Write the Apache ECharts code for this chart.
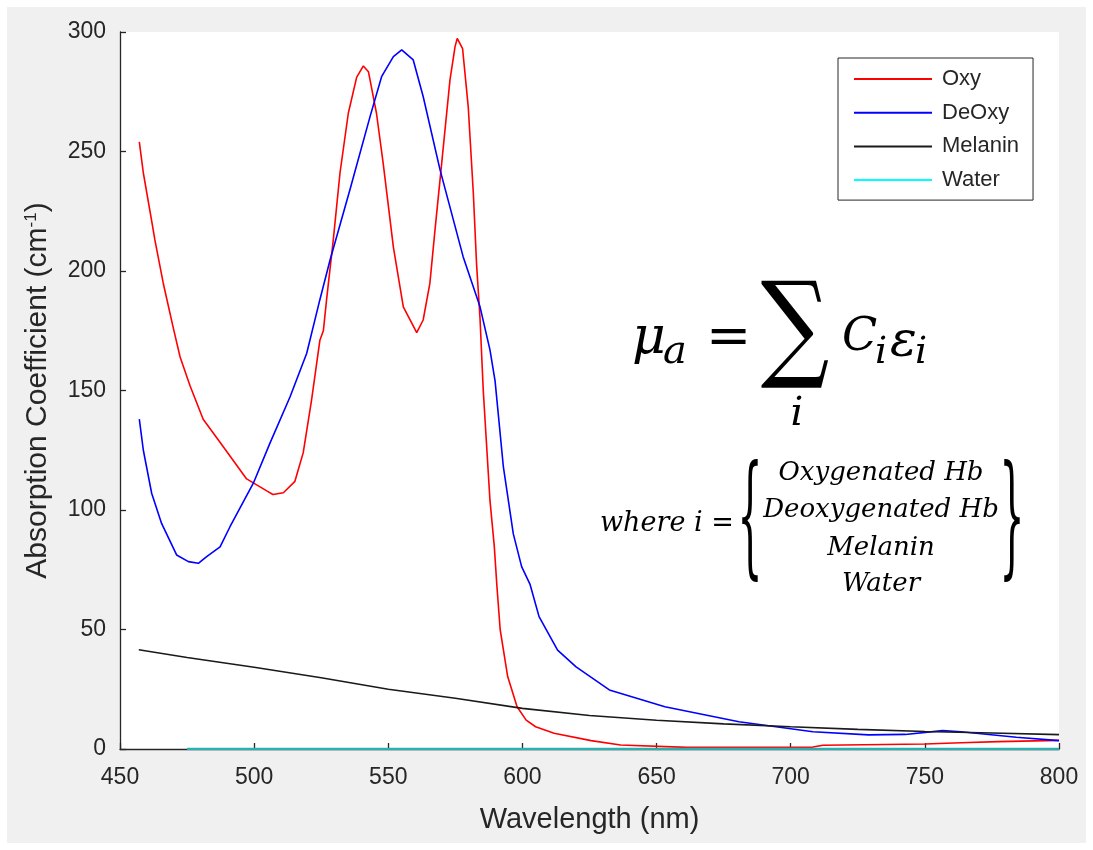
<!DOCTYPE html>
<html>
<head>
<meta charset="utf-8">
<script src="https://cdn.jsdelivr.net/npm/echarts@6/dist/echarts.min.js"></script>
<style>
  html, body { margin: 0; padding: 0; background: #fff; }
  #frame { position: absolute; left: 7px; top: 7px; width: 1079px; height: 836px; background: #f0f0f0; }
  #chart { position: absolute; left: 0; top: 0; width: 1093px; height: 850px; }
</style>
</head>
<body>
<div id="frame"></div>
<div id="chart"></div>
<script>
// absorption spectra (wavelength in nm, value in cm^-1)
const oxyWavelength = [457.2, 458.7, 461.8, 463, 466.1, 469.9, 472.4, 476.1, 481, 488.5, 497.2, 504.7, 507, 510.9, 515.2, 518.3, 521.4, 524.5, 525.8, 527, 529.5, 532, 535.1, 538.2, 540.7, 542.6, 545.6, 548.1, 551.9, 555.6, 560.6, 563, 565.5, 567.4, 569.9, 573, 574.9, 575.7, 577.7, 579.8, 581.7, 582.9, 584.2, 585.4, 587.9, 589.5, 590.5, 591.7, 594.5, 598, 601.4, 604.9, 611.8, 625.6, 636.6, 661.4, 708.3, 712, 750, 763.5, 777.3, 800]
const oxyValue = [254, 241, 221, 213, 195, 176, 164, 152, 138, 126.5, 113, 108, 106.5, 107.2, 112, 124, 146, 171, 175, 188, 213, 241, 266, 281, 285.8, 283.4, 266, 245, 210, 185, 174.2, 179.5, 194.8, 217, 245, 280, 294, 297.3, 293, 268.7, 232.5, 203, 180, 150, 104, 85, 68, 50, 30.3, 17.7, 12.1, 9.3, 6.6, 3.5, 1.7, 0.7, 0.8, 1.6, 2.1, 2.6, 3.1, 3.6]

const deoxyWavelength = [457.2, 458.7, 461.8, 465.5, 471.1, 475.5, 479.2, 482.3, 487.3, 491, 499.7, 505.9, 513.4, 519.6, 524.5, 528.3, 535.7, 543.2, 547.5, 551.9, 555, 559.3, 563, 569.3, 577.9, 584.2, 587.9, 589.8, 592.9, 596.6, 599.7, 602.8, 606.2, 613.1, 620, 632.4, 653.1, 680.7, 708.3, 729, 742.7, 756.6, 763.5, 784.1, 800]
const deoxyValue = [138, 125, 107, 94.4, 81.2, 78.4, 77.7, 80.5, 84.6, 93, 111.2, 128, 147.4, 165.6, 188, 204.6, 234, 264.6, 281.3, 289.7, 292.5, 288.3, 273, 242.3, 206, 185, 167, 154, 118, 90, 76.3, 69, 55.4, 41.4, 34.4, 24.7, 17.7, 11.4, 7.2, 5.9, 6.1, 7.7, 7.2, 4.9, 3.5]

const melaninWavelength = [457, 475, 500, 525, 550, 575, 600, 625, 650, 675, 700, 725, 750, 775, 800]
const melaninValue = [41.5, 38.3, 34.2, 29.8, 25, 21.2, 17, 14, 12, 10.5, 9.3, 8.2, 7.3, 6.7, 6]

const waterWavelength = [475, 550, 650, 750, 800]
const waterValue = [0, 0, 0, 0, 0]

const seriesNames = ['Oxy', 'DeOxy', 'Melanin', 'Water']

const sansFont = '"Liberation Sans", Arial, Helvetica, sans-serif'
const mathFont = '"DejaVu Serif", "Liberation Serif", serif'
const ink = '#262626'

function pairs(xs, ys) {
  return xs.map((x, i) => [x, ys[i]])
}

function lineSeries(name, xs, ys, color, width) {
  return {
    name,
    type: 'line',
    data: pairs(xs, ys),
    symbol: 'none',
    smooth: false,
    lineStyle: { color, width },
    itemStyle: { color },
  }
}

function mathText(x, y, text, size, opts = {}) {
  return {
    type: 'text',
    x,
    y,
    scaleX: opts.scaleX || 1,
    scaleY: opts.scaleY || 1,
    style: {
      text,
      fontFamily: mathFont,
      fontSize: size,
      fontStyle: opts.upright ? 'normal' : 'italic',
      fill: '#000',
      align: opts.align || 'left',
      verticalAlign: 'middle',
    },
  }
}

const chart = echarts.init(document.getElementById('chart'))

chart.setOption({
  animation: false,
  grid: {
    left: 120,
    right: 34,
    top: 32,
    bottom: 101,
    show: true,
    backgroundColor: '#fff',
    borderWidth: 0,
  },
  legend: {
    orient: 'vertical',
    left: 838,
    top: 58,
    padding: [10, 14, 9, 15],
    itemWidth: 78,
    itemHeight: 14,
    itemGap: 11.7,
    backgroundColor: '#fff',
    borderColor: ink,
    borderWidth: 1,
    borderRadius: 0,
    itemStyle: { opacity: 0 },
    textStyle: { fontSize: 22, color: ink, fontFamily: sansFont, padding: [0, 0, 0, 5] },
    data: [
      { name: 'Oxy' },
      { name: 'DeOxy' },
      { name: 'Melanin' },
      { name: 'Water', lineStyle: { color: '#00ffff' } },
    ],
  },
  xAxis: {
    type: 'value',
    min: 450,
    max: 800,
    interval: 50,
    name: 'Wavelength (nm)',
    nameLocation: 'middle',
    nameGap: 56,
    nameTextStyle: { fontSize: 29, color: ink, fontFamily: sansFont },
    axisLine: { show: true, onZero: false, lineStyle: { color: ink, width: 1.3 } },
    axisTick: { show: true, inside: true, length: 6, lineStyle: { color: ink, width: 1.3 } },
    axisLabel: { fontSize: 23, color: ink, fontFamily: sansFont, margin: 17 },
    splitLine: { show: false },
  },
  yAxis: {
    type: 'value',
    min: 0,
    max: 300,
    interval: 50,
    name: 'Absorption Coefficient (cm{sup|-1})',
    nameLocation: 'middle',
    nameGap: 67,
    nameTextStyle: {
      fontSize: 30,
      color: ink,
      fontFamily: sansFont,
      rich: {
        sup: { fontSize: 17, color: ink, fontFamily: sansFont, verticalAlign: 'top' },
      },
    },
    axisLine: { show: true, onZero: false, lineStyle: { color: ink, width: 1.3 } },
    axisTick: { show: true, inside: true, length: 6, lineStyle: { color: ink, width: 1.3 } },
    axisLabel: { fontSize: 23, color: ink, fontFamily: sansFont, margin: 14 },
    splitLine: { show: false },
  },
  series: [
    lineSeries(seriesNames[0], oxyWavelength, oxyValue, '#ff0000', 1.6),
    lineSeries(seriesNames[1], deoxyWavelength, deoxyValue, '#0000ff', 1.6),
    lineSeries(seriesNames[2], melaninWavelength, melaninValue, '#1a1a1a', 1.6),
    lineSeries(seriesNames[3], waterWavelength, waterValue, '#2bb0b0', 2.5),
  ],
  graphic: [
    // mu_a = sum_i C_i eps_i
    mathText(632, 339, 'μ', 52),
    mathText(663, 353, 'a', 40),
    mathText(706, 340, '=', 54, { upright: true }),
    mathText(795, 335, '∑', 96, { upright: true, align: 'center', scaleY: 1.22 }),
    mathText(797, 415, 'i', 40, { align: 'center' }),
    mathText(842, 338, 'C', 46),
    mathText(875, 353, 'i', 38),
    mathText(890, 343, 'ε', 50),
    mathText(915, 353, 'i', 38),
    // where i = { ... }
    mathText(600, 524, 'where i =', 27),
    mathText(750, 526, '{', 40, { upright: true, align: 'center', scaleY: 3.3 }),
    mathText(1012, 526, '}', 40, { upright: true, align: 'center', scaleY: 3.3 }),
    mathText(881, 473, 'Oxygenated Hb', 26, { align: 'center' }),
    mathText(881, 510, 'Deoxygenated Hb', 26, { align: 'center' }),
    mathText(881, 548, 'Melanin', 26, { align: 'center' }),
    mathText(881, 584, 'Water', 26, { align: 'center' }),
  ],
})
</script>
</body>
</html>
